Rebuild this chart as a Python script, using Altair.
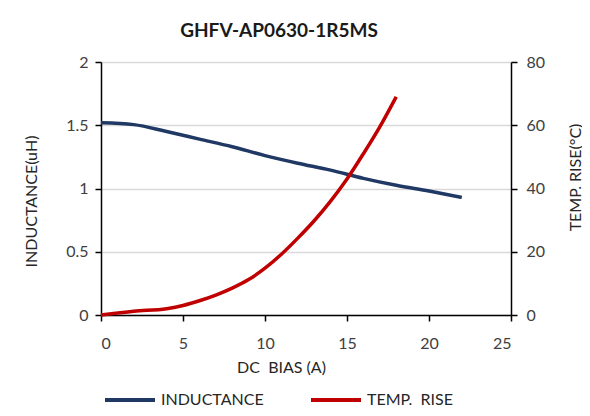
import altair as alt
import pandas as pd

# Inductance vs DC bias
ind_x = [0, 2, 4, 6, 8, 10, 12, 14, 16, 18, 20, 22]
ind_y = [1.52, 1.505, 1.45, 1.39, 1.33, 1.26, 1.20, 1.145, 1.08, 1.025, 0.98, 0.93]

# Temperature rise vs DC bias
temp_x = [0, 2, 4, 5, 6, 7, 8, 9, 10, 11, 12, 13, 14, 15, 16, 17, 18]
temp_y = [0, 1.2, 2.0, 3.0, 4.5, 6.3, 8.5, 11.2, 14.8, 19.2, 24.3, 29.8, 36, 43, 51, 59.5, 69]

series = ["INDUCTANCE", "TEMP.\u00a0 RISE"]
colors = ["#1f3864", "#c00000"]

df_ind = pd.DataFrame({"x": ind_x, "y": ind_y, "s": series[0]})
df_temp = pd.DataFrame({"x": temp_x, "y": temp_y, "s": series[1]})

FONT = "Lato"
LABEL_COLOR = "#404040"

color = alt.Color(
    "s:N",
    scale=alt.Scale(domain=series, range=colors),
    legend=alt.Legend(
        title=None,
        orient="none",
        legendX=2,
        legendY=311,
        direction="horizontal",
        symbolType="stroke",
        symbolSize=2500,
        symbolStrokeWidth=4,
        labelFontSize=16,
        labelFont=FONT,
        labelColor="#262626",
        columnPadding=39,
        labelOffset=4,
    ),
)

xenc = alt.X(
    "x:Q",
    scale=alt.Scale(domain=[0, 25]),
    axis=alt.Axis(
        values=[0, 5, 10, 15, 20, 25],
        title="DC\u00a0 BIAS (A)",
        titleX=180,
        titleY=57,
        titleAlign="center",
        titleBaseline="alphabetic",
        grid=False,
        labelPadding=14,
    ),
)

left = alt.Chart(df_ind).mark_line(strokeWidth=3.5, interpolate="monotone").encode(
    x=xenc,
    y=alt.Y(
        "y:Q",
        scale=alt.Scale(domain=[0, 2]),
        axis=alt.Axis(
            values=[0, 0.5, 1, 1.5, 2],
            format="~g",
            title="INDUCTANCE(uH)",
            titleX=-70,
            titleY=139,
            titleAngle=270,
            titleAlign="center",
            titleBaseline="middle",
            grid=True,
            labelPadding=7,
        ),
    ),
    color=color,
)

right = alt.Chart(df_temp).mark_line(strokeWidth=3.5, interpolate="monotone").encode(
    x=xenc,
    y=alt.Y(
        "y:Q",
        scale=alt.Scale(domain=[0, 80]),
        axis=alt.Axis(
            orient="right",
            values=[0, 20, 40, 60, 80],
            title="TEMP. RISE(\u00b0C)",
            titleX=64,
            titleY=115,
            titleAngle=270,
            titleAlign="center",
            titleBaseline="middle",
            grid=False,
            labelPadding=9,
        ),
    ),
    color=color,
)

chart = (
    alt.layer(left, right)
    .resolve_scale(y="independent")
    .properties(
        width=410,
        height=253,
        autosize=alt.AutoSizeParams(type="none"),
        padding={"left": 93, "top": 54, "right": 71, "bottom": 93},
        title=alt.TitleParams(
            "GHFV-AP0630-1R5MS",
            font=FONT,
            fontSize=19,
            fontWeight="bold",
            color="#1a1a1a",
            anchor="middle",
            dx=-27,
            offset=13,
        ),
    )
    .configure_view(stroke=None)
    .configure_axis(
        domainColor="#000000",
        domainWidth=1.5,
        tickColor="#000000",
        tickWidth=1.5,
        tickSize=6,
        labelFont=FONT,
        labelFontSize=16,
        labelColor=LABEL_COLOR,
        titleFont=FONT,
        titleFontSize=16,
        titleFontWeight="normal",
        titleColor="#262626",
        gridColor="#d9d9d9",
        gridWidth=1.5,
    )
)

chart.save("out.html", embed_options={"renderer": "svg", "actions": False})
